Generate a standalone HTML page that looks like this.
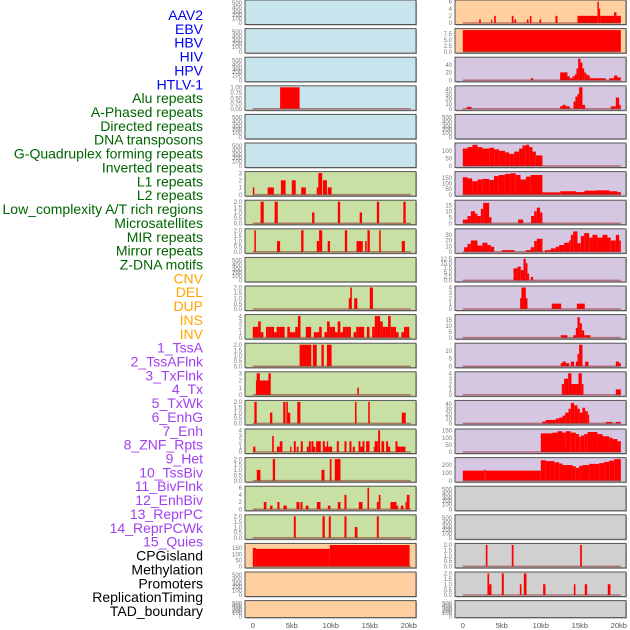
<!DOCTYPE html>
<html><head><meta charset="utf-8"><style>
html,body{margin:0;padding:0;background:#fff;}
svg{display:block;font-family:"Liberation Sans",sans-serif;}
</style></head><body>
<svg id="chart" width="630" height="630" viewBox="0 0 630 630"></svg>
<script>
// ---------- DATA (segments: [startKb, endKb, value]) ----------
const trackLabels = ["AAV2","EBV","HBV","HIV","HPV","HTLV-1","Alu repeats","A-Phased repeats","Directed repeats","DNA transposons","G-Quadruplex forming repeats","Inverted repeats","L1 repeats","L2 repeats","Low_complexity A/T rich regions","Microsatellites","MIR repeats","Mirror repeats","Z-DNA motifs","CNV","DEL","DUP","INS","INV","1_TssA","2_TssAFlnk","3_TxFlnk","4_Tx","5_TxWk","6_EnhG","7_Enh","8_ZNF_Rpts","9_Het","10_TssBiv","11_BivFlnk","12_EnhBiv","13_ReprPC","14_ReprPCWk","15_Quies","CPGisland","Methylation","Promoters","ReplicationTiming","TAD_boundary"];
const labelGroups = [0,0,0,0,0,0,1,1,1,1,1,1,1,1,1,1,1,1,1,2,2,2,2,2,3,3,3,3,3,3,3,3,3,3,3,3,3,3,3,4,4,4,4,4];
const xTickLabels = ["0","5kb","10kb","15kb","20kb"];
const xTickValues = [0,5,10,15,20];

const tEmpty = ["0","100","200","300","400","500"];
const t01 = ["0.00","0.25","0.50","0.75","1.00"];
const t2 = ["0.0","0.5","1.0","1.5","2.0"];
const t3 = ["0","1","2","3"];
const t4 = ["0","1","2","3","4"];
const t6 = ["0","2","4","6"];

const segL3 = [[3.5,6.0,1]];
const segL6 = [[0,0.2,1],[1.9,2.7,1],[3.6,4.2,2],[5.0,5.5,2],[6.2,6.8,1],[8.2,8.4,1],[8.4,8.9,3],[9.0,9.5,2],[9.6,10.1,1]];
const segL7 = [[1.0,1.4,2],[2.8,3.2,2],[7.6,7.9,1],[10.9,11.2,2],[13.7,14.0,1],[15.9,16.2,2],[19.3,19.6,2]];
const segL8 = [[0.2,0.4,2],[3.1,3.5,1],[6.2,6.5,2],[8.2,8.5,1],[8.5,8.9,2],[9.6,9.9,1],[11.8,12.1,2],[13.3,14.1,1],[14.4,14.6,1],[14.7,15.0,2],[16.2,16.4,2],[19.1,19.5,1]];
const segL10 = [[12.3,12.6,1],[12.5,12.7,2],[13.0,13.4,1],[15.0,15.4,2]];
const valsL11 = [2,2,3,1,0,2,2,2,1,2,2,2,0,2,1,1,2,4,0,0,2,2,0,1,1,2,0,1,3,2,2,1,3,1,2,2,2,0,1,2,2,2,0,2,0,2,4,4,3,2,2,4,2,2,1,0,1,2,2,0];
const segL12 = [[6.0,7.5,2],[7.7,8.2,2],[8.8,9.1,2],[9.5,10.1,2]];
const segL13 = [[0.4,2.2,2],[0.5,0.9,3],[2.0,2.3,3],[13.4,13.6,1]];
const segL14 = [[0.2,0.5,2],[2.2,2.5,1],[3.9,4.2,2],[4.3,4.5,2],[4.5,4.8,1],[5.7,6.1,2],[13.1,13.3,2],[14.8,15.0,2],[19.1,19.6,1]];
const segL15 = [[0.04,0.34,1],[2.48,2.69,3],[3.08,3.46,1],[3.46,3.80,2],[4.79,4.96,1],[5.26,5.51,2],[5.64,5.85,1],[6.15,6.41,2],[6.92,7.18,1],[7.18,7.44,2],[7.52,7.78,2],[7.78,8.03,1],[8.12,8.72,2],[8.97,9.23,2],[9.23,9.49,1],[9.49,9.66,2],[9.66,10.17,1],[10.77,11.03,2],[11.75,12.01,2],[12.39,12.65,2],[12.82,13.08,1],[13.55,13.80,2],[13.80,14.06,1],[14.06,14.32,2],[14.53,14.96,2],[15.51,15.64,1],[15.64,15.94,2],[15.94,16.07,2],[16.07,16.32,4],[16.50,16.84,2],[17.09,17.35,2],[17.35,17.61,1],[18.29,18.55,2],[18.55,18.89,1],[18.89,19.57,1]];
const segL16 = [[0.51,0.98,1],[2.56,2.86,2],[8.80,9.19,1],[9.87,10.09,2],[10.51,11.24,2]];
const segL17 = [[1.41,1.75,2],[2.22,2.52,1],[3.16,3.42,2],[3.93,4.36,1],[5.60,5.98,2],[6.11,6.37,2],[6.79,7.14,1],[8.21,8.68,2],[9.62,9.96,1],[10.90,11.24,2],[11.75,12.01,4],[13.59,14.06,2],[14.70,14.91,6],[15.90,16.15,2],[16.15,16.37,4],[17.65,18.42,2],[18.42,18.63,1],[18.97,19.32,1],[19.57,19.74,2],[19.74,20.09,4]];
const segL18 = [[5.26,5.51,2],[8.93,9.23,2],[9.74,10.0,2],[11.75,12.01,2],[13.08,13.42,1],[15.90,16.15,2]];
const segL19 = [[0,0.4,150],[0.4,9.87,143],[9.87,20.1,174]];

const segR0 = [[2.09,2.31,1],[3.63,3.76,1],[4.02,4.23,2],[6.28,6.50,2],[6.62,6.84,1],[8.21,8.42,1],[8.59,8.80,2],[9.83,10.04,1],[11.88,12.14,2],[14.70,17.26,2],[17.26,17.44,6],[17.44,17.61,4],[17.61,19.40,2],[19.40,19.70,3],[19.70,20.26,2]];
const segR1 = [[0,20.26,9]];
const segR2 = [[8.72,9.02,5],[12.48,13.42,20],[13.42,13.72,10],[13.72,14.06,5],[14.06,14.36,10],[14.36,14.57,15],[14.57,14.79,30],[14.79,15.09,55],[15.09,15.34,45],[15.34,15.56,30],[15.56,15.77,20],[15.77,16.03,15],[16.03,16.28,12],[16.28,18.33,5],[18.76,19.40,5],[19.40,19.83,12],[19.83,20.26,7]];
const segR3 = [[0.51,1.11,4],[12.48,12.78,5],[12.78,13.21,8],[13.21,13.72,5],[14.19,14.44,15],[14.44,14.70,25],[14.70,14.91,30],[14.91,15.34,44],[15.34,15.68,8],[18.97,19.62,5],[19.62,20.04,23],[20.04,20.26,8]];
const segR5 = [[0,0.6,115],[0.6,1.24,125],[1.24,1.88,140],[1.88,2.52,125],[2.52,3.38,115],[3.38,4.02,120],[4.02,4.66,110],[4.66,5.43,100],[5.43,5.94,90],[5.94,6.58,80],[6.58,7.22,95],[7.22,7.65,115],[7.65,8.08,135],[8.08,8.5,140],[8.5,8.93,125],[8.93,9.36,95],[9.36,10.21,70]];
const segR6 = [[0,0.6,155],[0.6,1.2,145],[1.2,1.9,120],[1.9,2.5,135],[2.5,3.4,140],[3.4,4.0,130],[4.0,4.6,165],[4.6,5.4,175],[5.4,6.1,185],[6.1,6.8,190],[6.8,7.4,175],[7.4,8.1,135],[8.1,8.7,160],[8.7,10.2,175],[10.2,12.5,20],[12.5,14.5,30],[14.5,15.6,22],[15.6,17,35],[17,18.8,38],[18.8,19.8,30],[19.8,20.26,22]];
const segR7 = [[0,0.6,3],[0.6,1.03,6],[1.03,1.58,10],[1.58,1.88,8],[1.88,2.31,6],[2.31,2.61,12],[2.61,3.38,17],[3.38,3.68,5],[7.09,7.74,3],[8.76,9.15,6],[9.15,9.49,10],[9.49,9.91,13],[9.91,10.21,9]];
const segR8 = [[0.17,0.6,8],[0.6,1.03,14],[1.03,1.88,20],[1.88,2.52,11],[2.52,3.16,16],[3.16,3.59,12],[3.59,4.02,9],[5.0,6.62,3],[8.08,8.72,3],[8.72,9.15,8],[9.15,9.49,19],[9.49,10.21,23],[10.5,11.28,3],[11.28,11.92,6],[11.92,12.35,9],[12.35,12.99,12],[12.99,13.63,16],[13.63,13.85,20],[13.85,14.15,30],[14.15,14.70,36],[14.70,15.13,15],[15.13,15.56,28],[15.56,16.20,33],[16.20,16.62,25],[16.62,17.26,30],[17.26,17.91,25],[17.91,18.55,30],[18.55,18.97,25],[18.97,19.62,20],[19.62,20.04,30],[20.04,20.26,20]];
const segR9 = [[6.5,7.0,7],[7.0,7.44,8],[7.44,7.78,6],[7.78,8.08,12.5],[8.08,8.29,10],[8.29,8.5,4],[8.72,9.02,2]];
const segR10 = [[7.35,8.29,2],[7.52,8.08,4],[11.41,12.61,1],[14.62,15.64,1]];
const segR11 = [[12.56,13.42,2],[14.15,14.70,2],[14.49,14.83,8],[14.70,15.0,17],[15.0,15.26,12],[15.26,15.56,6],[15.56,16.37,2]];
const segR12 = [[12.56,12.78,2],[12.78,13.21,3],[13.21,13.63,2],[13.85,14.27,3],[14.49,14.70,3],[14.70,14.91,8],[14.91,15.34,14],[15.68,16.11,3],[19.62,20.04,3],[20.04,20.26,2]];
const segR13 = [[12.69,12.99,2],[12.99,13.5,3],[13.5,13.93,4],[13.93,14.83,2],[14.83,15.26,4],[15.26,15.47,2],[19.62,20.26,1]];
const segR14 = [[10.21,10.64,4],[10.64,11.92,7],[11.92,12.35,10],[12.35,12.78,12],[12.78,13.12,16],[13.12,13.55,22],[13.55,13.85,30],[13.85,14.27,42],[14.27,14.70,37],[14.70,15.0,30],[15.0,15.34,22],[15.34,15.68,32],[15.68,16.03,25],[16.03,16.2,18],[18.33,19.19,3],[19.62,20.26,3]];
const segR15 = [[10.0,11.5,130],[11.5,12.14,135],[12.14,12.78,145],[12.78,13.21,135],[13.21,13.85,145],[13.85,14.49,135],[14.49,14.91,125],[14.91,15.13,105],[15.13,15.56,115],[15.56,16.0,125],[16.0,17.26,140],[17.26,17.91,125],[17.91,18.76,110],[18.76,19.19,100],[19.19,19.83,90],[19.83,20.26,75]];
const segR16 = [[0,2.74,125],[2.74,2.95,135],[2.95,10.0,125],[10.0,10.64,255],[10.64,11.71,245],[11.71,12.35,230],[12.35,12.78,215],[12.78,14.06,195],[14.06,14.49,180],[14.49,14.91,160],[14.91,15.34,185],[15.34,16.2,195],[16.2,17.48,210],[17.48,18.12,220],[18.12,18.76,235],[18.76,19.4,250],[19.4,20.26,270]];
const segR19 = [[2.95,3.16,2],[6.28,6.50,2],[15.04,15.26,2]];
const segR20 = [[3.16,3.38,2],[3.38,3.68,1],[5.0,5.26,2],[7.31,7.52,1],[7.82,8.16,2],[10.30,10.60,1],[14.23,14.44,1],[15.64,15.94,1],[18.59,18.93,1]];

// ---------- LAYOUT ----------
const BLUE="#c8e4ec", GREEN="#c8e0a4", ORANGE="#fecf9f", PURPLE="#d5c6e2", GRAY="#d0d0d0";
const groupColors = ["#0000ee","#006400","#ffa500","#a040f0","#000000"];
function binsToSeg(vals, w){ const s=[]; vals.forEach((v,i)=>{ if(v>0) s.push([i*w,(i+1)*w,v]); }); return s; }
const panels = [
 {c:0,r:0,bg:BLUE},{c:0,r:1,bg:BLUE},{c:0,r:2,bg:BLUE},
 {c:0,r:3,bg:BLUE,t:t01,ymax:1,seg:segL3},
 {c:0,r:4,bg:BLUE},{c:0,r:5,bg:BLUE},
 {c:0,r:6,bg:GREEN,t:t3,ymax:3,seg:segL6},
 {c:0,r:7,bg:GREEN,t:t2,ymax:2,seg:segL7},
 {c:0,r:8,bg:GREEN,t:t2,ymax:2,seg:segL8},
 {c:0,r:9,bg:GREEN},
 {c:0,r:10,bg:GREEN,t:t2,ymax:2,seg:segL10},
 {c:0,r:11,bg:GREEN,t:t4,ymax:4,seg:binsToSeg(valsL11,0.34)},
 {c:0,r:12,bg:GREEN,t:t2,ymax:2,seg:segL12},
 {c:0,r:13,bg:GREEN,t:t3,ymax:3,seg:segL13},
 {c:0,r:14,bg:GREEN,t:t2,ymax:2,seg:segL14},
 {c:0,r:15,bg:GREEN,t:t4,ymax:4,seg:segL15},
 {c:0,r:16,bg:GREEN,t:t2,ymax:2,seg:segL16},
 {c:0,r:17,bg:GREEN,t:t6,ymax:6,seg:segL17},
 {c:0,r:18,bg:GREEN,t:t2,ymax:2,seg:segL18},
 {c:0,r:19,bg:ORANGE,t:["0","50","100","150"],ymax:175,seg:segL19},
 {c:0,r:20,bg:ORANGE},{c:0,r:21,bg:ORANGE},
 {c:1,r:0,bg:ORANGE,t:t6,ymax:6,seg:segR0},
 {c:1,r:1,bg:ORANGE,t:["0.0","2.5","5.0","7.5"],ymax:9,seg:segR1},
 {c:1,r:2,bg:PURPLE,t:["0","20","40"],ymax:55,seg:segR2},
 {c:1,r:3,bg:PURPLE,t:["0","10","20","30","40"],ymax:44,seg:segR3},
 {c:1,r:4,bg:PURPLE},
 {c:1,r:5,bg:PURPLE,t:["0","50","100"],ymax:142,seg:segR5},
 {c:1,r:6,bg:PURPLE,t:["0","50","100","150"],ymax:192,seg:segR6},
 {c:1,r:7,bg:PURPLE,t:["0","5","10","15"],ymax:18,seg:segR7},
 {c:1,r:8,bg:PURPLE,t:["0","10","20","30"],ymax:38,seg:segR8},
 {c:1,r:9,bg:PURPLE,t:["0.0","2.5","5.0","7.5","10.0","12.5"],ymax:12.5,seg:segR9},
 {c:1,r:10,bg:PURPLE,t:t4,ymax:4,seg:segR10},
 {c:1,r:11,bg:PURPLE,t:["0","5","10","15"],ymax:18,seg:segR11},
 {c:1,r:12,bg:PURPLE,t:["0","5","10"],ymax:14,seg:segR12},
 {c:1,r:13,bg:PURPLE,t:t4,ymax:4,seg:segR13},
 {c:1,r:14,bg:PURPLE,t:["0","10","20","30","40"],ymax:44,seg:segR14},
 {c:1,r:15,bg:PURPLE,t:["0","50","100","150"],ymax:150,seg:segR15},
 {c:1,r:16,bg:PURPLE,t:["0","100","200"],ymax:270,seg:segR16},
 {c:1,r:17,bg:GRAY},{c:1,r:18,bg:GRAY},
 {c:1,r:19,bg:GRAY,t:t2,ymax:2,seg:segR19},
 {c:1,r:20,bg:GRAY,t:t2,ymax:2,seg:segR20},
 {c:1,r:21,bg:GRAY}
];

const NS="http://www.w3.org/2000/svg";
const svg=document.getElementById('chart');
function mk(tag,attrs,parent){const e=document.createElementNS(NS,tag);for(const k in attrs)e.setAttribute(k,attrs[k]);(parent||svg).appendChild(e);return e;}

// labels
trackLabels.forEach((lab,i)=>{
  const t=mk('text',{x:203,y:15+i*13.86+5,'text-anchor':'end','font-size':14,fill:groupColors[labelGroups[i]]});
  t.textContent=lab;
  
  
});

const colX=[245,455], PW=171;
function xScale(c,kb){return colX[c]+7.8+kb*7.8;}
panels.forEach(p=>{
  const top=p.r*28.6, h=(p.r===21?17:24.5), bot=top+h, L=colX[p.c];
  const g=mk('g',{});
  
  
  mk('rect',{x:L+1,y:top+1,width:PW,height:h,fill:'#aaa'},g);
  const bg=mk('rect',{x:L,y:top,width:PW,height:h,fill:p.bg,stroke:'#555','stroke-width':1},g);
  
  
  const yS=v=>bot-1.5-v/(p.ymax||1)*(h-3);
  if(p.seg){
    p.seg.forEach(s=>{
      const x0=xScale(p.c,s[0]), x1=xScale(p.c,s[1]);
      const b=mk('rect',{x:x0,y:yS(s[2]),width:Math.max(0.8,x1-x0),height:yS(0)-yS(s[2]),fill:'#ff0000'},g);
      
      
    });
    const bl=mk('line',{x1:xScale(p.c,0),x2:xScale(p.c,20.26),y1:yS(0),y2:yS(0),stroke:'rgba(150,40,40,0.55)','stroke-width':1.5},g);
    
    
    p.t.forEach(s=>{
      const tt=mk('text',{x:L-3,y:yS(parseFloat(s))+2.2,'text-anchor':'end','font-size':6,fill:'#777'},g);
      tt.textContent=s;
      
      
    });
  } else {
    const fr=[0,0.22,0.38,0.52,0.72,0.93];
    tEmpty.forEach((s,i)=>{
      const tt=mk('text',{x:L-3,y:bot-1.5-fr[i]*(h-3)+2.2,'text-anchor':'end','font-size':6,fill:'#777'},g);
      tt.textContent=s;
      
      
    });
  }
});

// x axes
[0,1].forEach(c=>{
  xTickValues.forEach((v,i)=>{
    const t=mk('text',{x:xScale(c,v),y:628,'text-anchor':'middle','font-size':7.5,fill:'#555'});
    t.textContent=xTickLabels[i];
    
    
  });
});
</script>
</body></html>
